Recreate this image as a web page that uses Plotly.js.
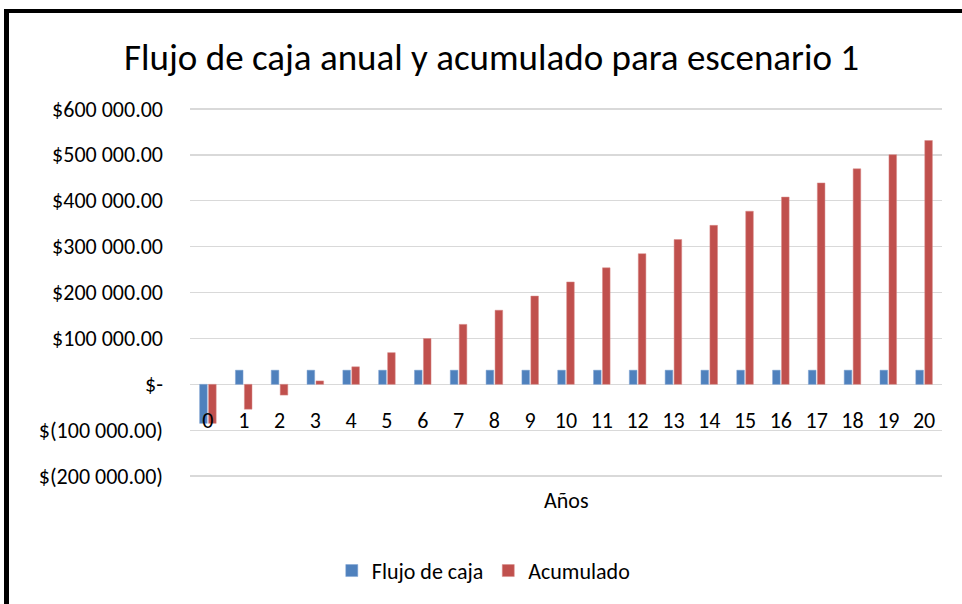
<!DOCTYPE html>
<html>
<head>
<meta charset="utf-8">
<script src="https://cdn.plot.ly/plotly-3.0.1.min.js"></script>
<style>
  html, body { margin: 0; padding: 0; background: #ffffff; }
  #chart { position: absolute; left: 0; top: 0; width: 962px; height: 604px; }
  #frame { position: absolute; left: 4px; top: 9px; width: 980px; height: 620px;
           border-left: 5px solid #000; border-top: 4px solid #000; pointer-events: none; }
</style>
</head>
<body>
<div id="chart"></div>
<div id="frame"></div>
<script>
const years = ["0","1","2","3","4","5","6","7","8","9","10","11","12","13","14","15","16","17","18","19","20"];
const flujoCaja = [-85000, 30800, 30800, 30800, 30800, 30800, 30800, 30800, 30800, 30800, 30800,
                   30800, 30800, 30800, 30800, 30800, 30800, 30800, 30800, 30800, 30800];
const acumulado = [-85000, -54200, -23400, 7400, 38200, 69000, 99800, 130600, 161400, 192200, 223000,
                   253800, 284600, 315400, 346200, 377000, 407800, 438600, 469400, 500200, 531000];
const yTickVals = [-200000, -100000, 0, 100000, 200000, 300000, 400000, 500000, 600000];
const yTickText = ["$(200 000.00)", "$(100 000.00)", "$-", "$100 000.00", "$200 000.00",
                   "$300 000.00", "$400 000.00", "$500 000.00", "$600 000.00"];
const seriesNames = ["Flujo de caja", "Acumulado"];
const titleText = "Flujo de caja anual y acumulado para escenario 1";
const xTitle = "Años";

const FONT = "Carlito, Lato, 'Open Sans', sans-serif";
const yMin = -204000, yMax = 604000;

const traces = [
  { type: "bar", name: seriesNames[0], x: years, y: flujoCaja,
    marker: { color: "#4F81BD", line: { color: "#7ea3d2", width: 0.5 } } },
  { type: "bar", name: seriesNames[1], x: years, y: acumulado,
    marker: { color: "#C0504D", line: { color: "#d98a88", width: 0.5 } } }
];

const layout = {
  width: 962, height: 604,
  margin: { l: 190, r: 20, t: 107, b: 124 },
  paper_bgcolor: "#ffffff", plot_bgcolor: "#ffffff",
  font: { family: FONT, color: "#000000", size: 22 },
  title: { text: titleText, font: { family: FONT, size: 37, color: "#000" },
           x: 0.511, xanchor: "center", y: 0.905, yanchor: "middle" },
  barmode: "group", bargap: 0.5, bargroupgap: 0.15,
  showlegend: true,
  legend: { orientation: "h", x: 0.39, xanchor: "center", y: -0.25, yanchor: "middle",
            font: { family: FONT, size: 22 }, itemwidth: 30, traceorder: "normal" },
  xaxis: { type: "category", anchor: "free", position: (0 - yMin) / (yMax - yMin),
           showline: false, ticks: "", showgrid: false, zeroline: false,
           tickfont: { family: FONT, size: 22, color: "#000" }, ticklabelstandoff: 21 },
  yaxis: { range: [yMin, yMax], tickvals: yTickVals, ticktext: yTickText,
           showgrid: true, gridcolor: "#D9D9D9", gridwidth: 1.5,
           zeroline: true, zerolinecolor: "#D9D9D9", zerolinewidth: 1.5,
           showline: false, ticks: "", ticklabelstandoff: 26,
           tickfont: { family: FONT, size: 22, color: "#000" } },
  annotations: [
    { text: xTitle, xref: "paper", yref: "paper", x: 0.5, y: -0.06, xanchor: "center", yanchor: "middle",
      showarrow: false, font: { family: FONT, size: 22, color: "#000" } }
  ]
};

Plotly.newPlot("chart", traces, layout, { displayModeBar: false, staticPlot: true });
</script>
</body>
</html>
